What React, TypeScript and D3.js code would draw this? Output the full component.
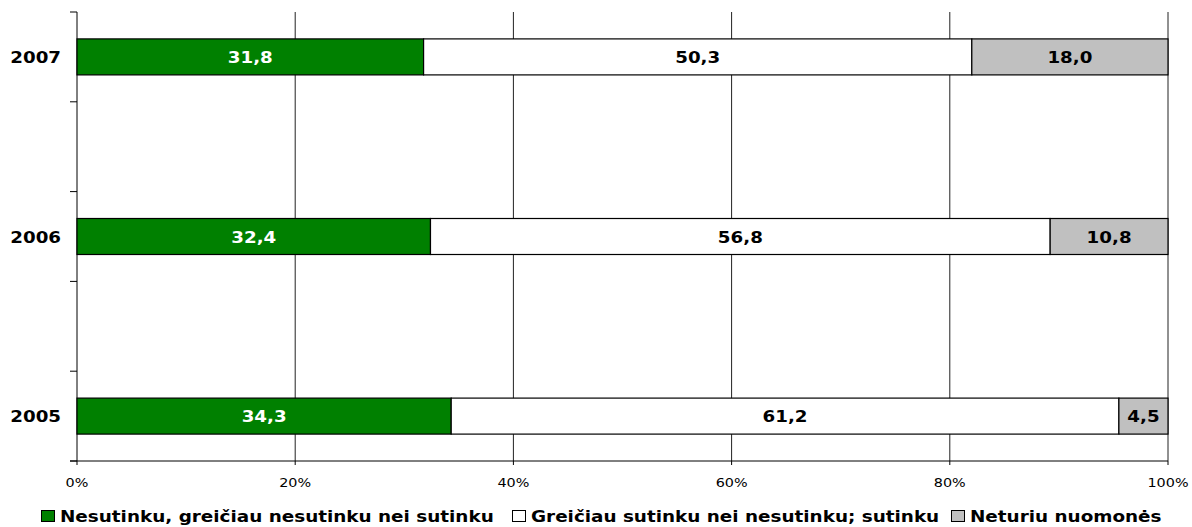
import React from "react";
import * as d3 from "d3";

const categories = ["2007", "2006", "2005"];
const seriesNames = [
  "Nesutinku, greičiau nesutinku nei sutinku",
  "Greičiau sutinku nei nesutinku; sutinku",
  "Neturiu nuomonės",
];
const disagree = [31.8, 32.4, 34.3];
const agree = [50.3, 56.8, 61.2];
const noOpinion = [18.0, 10.8, 4.5];
const xTicks = [0, 0.2, 0.4, 0.6, 0.8, 1.0];
const colors = ["#008000", "#FFFFFF", "#C0C0C0"];
const labelColors = ["#FFFFFF", "#000000", "#000000"];

const W = 1192;
const H = 527;
const left = 77;
const right = 1168;
const top = 12;
const bottom = 461;
const barH = 36;
const font = "'DejaVu Sans', Verdana, sans-serif";

function SText(props: {
  x: number;
  y: number;
  sx: number;
  anchor?: string;
  size: number;
  bold?: boolean;
  fill?: string;
  children: React.ReactNode;
}) {
  return (
    <text
      transform={`translate(${props.x},${props.y}) scale(${props.sx},1)`}
      textAnchor={props.anchor || "start"}
      fontSize={props.size}
      fontWeight={props.bold ? "bold" : "normal"}
      fill={props.fill || "#000"}
    >
      {props.children}
    </text>
  );
}

export default function App() {
  const x = d3.scaleLinear().domain([0, 1]).range([left, right]);
  const y = d3.scalePoint<string>().domain(categories).range([top, bottom]).padding(0.25);
  const halfStep = y.step() / 2;
  const yTicks = d3.range(6).map((i) => top + i * halfStep);

  const rows = categories.map((c, i) => {
    const vals = [disagree[i], agree[i], noOpinion[i]];
    const total = d3.sum(vals);
    let acc = 0;
    const segs = vals.map((v, k) => {
      const x0 = acc / total;
      acc += v;
      const x1 = acc / total;
      return { k, v, x0, x1 };
    });
    return { c, segs };
  });

  const fmt = (v: number) => v.toFixed(1).replace(".", ",");
  const legendX = [41, 512, 951];

  return (
    <svg width={W} height={H} style={{ position: "absolute", left: 0, top: 0, background: "#fff" }} fontFamily={font}>
      <rect width={W} height={H} fill="#fff" />
      {/* gridlines */}
      {xTicks.slice(1).map((t) => (
        <line key={t} x1={x(t)} x2={x(t)} y1={top} y2={bottom} stroke="#222" strokeWidth={1} />
      ))}
      {/* y axis */}
      <line x1={left} x2={left} y1={top} y2={bottom} stroke="#000" strokeWidth={1} />
      {yTicks.map((t, i) => (
        <line key={i} x1={left - 7} x2={left} y1={t} y2={t} stroke="#000" strokeWidth={1} />
      ))}
      {/* x axis */}
      <line x1={left - 7} x2={right} y1={bottom} y2={bottom} stroke="#000" strokeWidth={1} />
      {xTicks.map((t) => (
        <g key={t}>
          <line x1={x(t)} x2={x(t)} y1={bottom} y2={bottom + 4} stroke="#000" strokeWidth={1} />
          <SText x={x(t)} y={487} sx={1.15} anchor="middle" size={12.5}>
            {Math.round(t * 100)}%
          </SText>
        </g>
      ))}
      {/* bars */}
      {rows.map((r) => (
        <g key={r.c}>
          {r.segs.map((s) => (
            <g key={s.k}>
              <rect
                x={x(s.x0)}
                y={(y(r.c) as number) - barH / 2}
                width={x(s.x1) - x(s.x0)}
                height={barH}
                fill={colors[s.k]}
                stroke="#000"
                strokeWidth={1.2}
              />
              <SText
                x={(x(s.x0) + x(s.x1)) / 2}
                y={(y(r.c) as number) + 6}
                sx={1.14}
                anchor="middle"
                size={16}
                bold
                fill={labelColors[s.k]}
              >
                {fmt(s.v)}
              </SText>
            </g>
          ))}
          <SText x={61} y={(y(r.c) as number) + 6} sx={1.14} anchor="end" size={16} bold>
            {r.c}
          </SText>
        </g>
      ))}
      {/* legend */}
      {seriesNames.map((n, i) => (
        <g key={n}>
          <rect x={legendX[i] + 0.5} y={510.5} width={13} height={11} fill={colors[i]} stroke="#000" strokeWidth={1} />
          <SText x={legendX[i] + 19} y={522} sx={1.225} size={15} bold>
            {n}
          </SText>
        </g>
      ))}
    </svg>
  );
}
